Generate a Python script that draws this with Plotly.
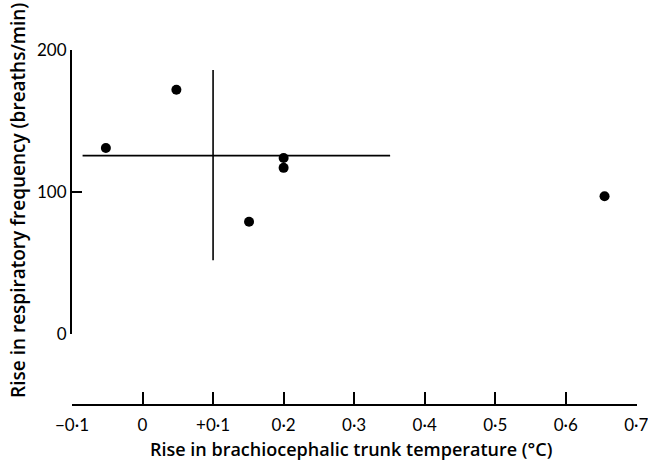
import plotly.graph_objects as go

# Individual observations
temp_rise = [-0.052, 0.048, 0.200, 0.200, 0.151, 0.655]
resp_rise = [131, 172, 124, 117, 79, 97]

# Cross marking mean and spread
cross_h_x = [-0.085, 0.351]
cross_h_y = [125.6, 125.6]
cross_v_x = [0.100, 0.100]
cross_v_y = [52, 186]

x_ticks = [-0.1, 0.0, 0.1, 0.2, 0.3, 0.4, 0.5, 0.6, 0.7]
x_ticktext = ["\u22120\u00b71", "0", "+0\u00b71", "0\u00b72", "0\u00b73",
              "0\u00b74", "0\u00b75", "0\u00b76", "0\u00b77"]
y_ticks = [0, 100, 200]
y_ticktext = ["0", "100", "200"]

x_title = "Rise in brachiocephalic trunk temperature (\u00b0C)"
y_title = "Rise in respiratory frequency (breaths/min)"

TICK_FONT = "Lato"
TITLE_FONT = "Open Sans"

fig = go.Figure()
fig.add_trace(go.Scatter(x=cross_h_x, y=cross_h_y, mode="lines",
                         line=dict(color="black", width=1.6), hoverinfo="skip"))
fig.add_trace(go.Scatter(x=cross_v_x, y=cross_v_y, mode="lines",
                         line=dict(color="black", width=1.6), hoverinfo="skip"))
fig.add_trace(go.Scatter(x=temp_rise, y=resp_rise, mode="markers",
                         marker=dict(color="black", size=10)))

fig.update_layout(
    width=648, height=461,
    margin=dict(l=72, r=11, t=50, b=56, autoexpand=False),
    paper_bgcolor="white", plot_bgcolor="white",
    showlegend=False,
    font=dict(family=TICK_FONT, color="black", size=17),
    xaxis=dict(range=[-0.1, 0.701], tickvals=x_ticks, ticktext=x_ticktext,
               showgrid=False, zeroline=False, showline=True,
               linecolor="black", linewidth=2,
               ticks="inside", ticklen=12, tickwidth=2, tickcolor="black",
               anchor="free", position=0, ticklabelstandoff=5,
               ticklabeloverflow="allow", automargin=False,
               tickfont=dict(family=TICK_FONT, size=17)),
    yaxis=dict(range=[0, 200], tickvals=y_ticks, ticktext=y_ticktext,
               domain=[0.2, 1],
               showgrid=False, zeroline=False, showline=True,
               linecolor="black", linewidth=2,
               ticks="inside", ticklen=10, tickwidth=2, tickcolor="black",
               tickfont=dict(family=TICK_FONT, size=17)),
    annotations=[
        dict(text=x_title, xref="paper", yref="paper",
             x=0.493, y=-0.124, xanchor="center", yanchor="middle",
             showarrow=False,
             font=dict(family=TITLE_FONT, size=18, weight=600)),
        dict(text=y_title, xref="paper", yref="paper",
             x=-0.096, y=0.577, xanchor="center", yanchor="middle",
             showarrow=False, textangle=-90,
             font=dict(family=TITLE_FONT, size=19, weight=600)),
    ],
)

fig.write_html("out.html")
